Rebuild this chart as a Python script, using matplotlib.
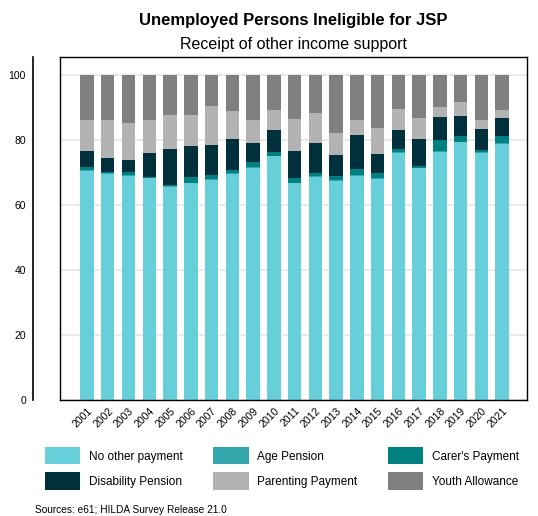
import numpy as np
import matplotlib
matplotlib.use('Agg')
import matplotlib.pyplot as plt

plt.rcParams['font.family'] = ['Liberation Sans', 'DejaVu Sans']

years = [str(y) for y in range(2001, 2022)]

# share of unemployed persons ineligible for JSP, by other payment received (%)
no_other = [70.3, 69.5, 68.9, 68.3, 65.4, 66.7, 67.8, 69.6, 71.5, 74.9, 66.6,
            68.5, 67.3, 69.0, 68.0, 76.0, 71.3, 76.4, 79.3, 76.1, 78.8]
age_pension = [0.4, 0.3, 0.3, 0.1, 0.3, 0.1, 0.1, 0.1, 0.2, 0.1, 0.1,
               0.3, 0.3, 0.2, 0.4, 0.4, 0.1, 0.2, 0.1, 0.1, 0.4]
carers = [0.9, 0.3, 0.85, 0.1, 0.35, 1.7, 1.2, 1.0, 1.4, 1.2, 1.5,
          0.9, 1.2, 1.8, 1.3, 0.7, 0.5, 3.3, 1.9, 0.6, 2.0]
disability = [4.9, 4.3, 3.65, 7.4, 11.05, 9.5, 9.3, 9.6, 5.8, 6.8, 8.3,
              9.3, 6.5, 10.4, 5.9, 5.9, 8.4, 7.1, 6.0, 6.5, 5.4]
parenting = [9.5, 11.7, 11.4, 10.15, 10.5, 9.8, 12.0, 8.5, 7.2, 6.1, 9.9,
             9.2, 6.75, 4.65, 8.0, 6.4, 6.4, 3.0, 4.3, 2.75, 2.5]
youth = [14.0, 13.9, 14.9, 13.95, 12.4, 12.2, 9.6, 11.2, 13.9, 10.9, 13.6,
         11.8, 17.95, 13.95, 16.4, 10.6, 13.3, 10.0, 8.4, 13.95, 10.9]

series = [
    ('No other payment', no_other, '#67CFD9'),
    ('Age Pension', age_pension, '#33A7AC'),
    ("Carer's Payment", carers, '#008080'),
    ('Disability Pension', disability, '#00303C'),
    ('Parenting Payment', parenting, '#B3B3B3'),
    ('Youth Allowance', youth, '#808080'),
]

W, H = 538, 516
fig = plt.figure(figsize=(W / 100, H / 100), dpi=100)
ax = fig.add_axes([60 / W, 1 - 400 / H, 467 / W, 343 / H])

x = np.arange(len(years))
bottom = np.zeros(len(years))
handles = {}
for name, vals, col in series:
    vals = np.array(vals)
    b = ax.bar(x, vals, 0.65, bottom=bottom, color=col, linewidth=0, label=name, zorder=2)
    handles[name] = b
    bottom += vals

ax.set_xlim(-1.3, 21.2)
ax.set_ylim(0, 105.5)
ax.set_yticks([0, 20, 40, 60, 80, 100])
ax.yaxis.grid(True, color='#E6E6E6', linewidth=1.2)
ax.set_axisbelow(True)
ax.tick_params(axis='y', length=0, labelleft=False)
ax.set_xticks(x)
ax.set_xticklabels(years, rotation=45, ha='right', rotation_mode='anchor', fontsize=7.5)
ax.tick_params(axis='x', length=0, pad=4)
for s in ax.spines.values():
    s.set_color('black')
    s.set_linewidth(1)

# separate y axis line with labels, off to the left of the frame
sec = ax.secondary_yaxis(-27 / 467)
sec.set_yticks([0, 20, 40, 60, 80, 100])
sec.tick_params(length=0, pad=5, labelsize=7.5)
sec.spines['left'].set_linewidth(1.2)

# titles centred over the plot panel
cx = (60 + 527) / 2 / W
fig.text(cx, 1 - 20 / H, 'Unemployed Persons Ineligible for JSP', ha='center', va='center',
         fontsize=12, fontweight='bold')
fig.text(cx, 1 - 44 / H, 'Receipt of other income support', ha='center', va='center',
         fontsize=11.5)

order = ['No other payment', 'Disability Pension', 'Age Pension', 'Parenting Payment',
         "Carer's Payment", 'Youth Allowance']
fig.legend([handles[n] for n in order], order, ncol=3, loc='upper left',
           bbox_to_anchor=(45 / W, 1 - 447 / H), frameon=False, fontsize=8.5,
           handlelength=3.0, handleheight=1.9, handletextpad=0.75,
           labelspacing=0.65, columnspacing=2.55, borderpad=0, borderaxespad=0)

fig.text(35 / W, 1 - 510 / H, 'Sources: e61; HILDA Survey Release 21.0', ha='left', va='center',
         fontsize=7.3)

fig.savefig('out.png', dpi=100)
